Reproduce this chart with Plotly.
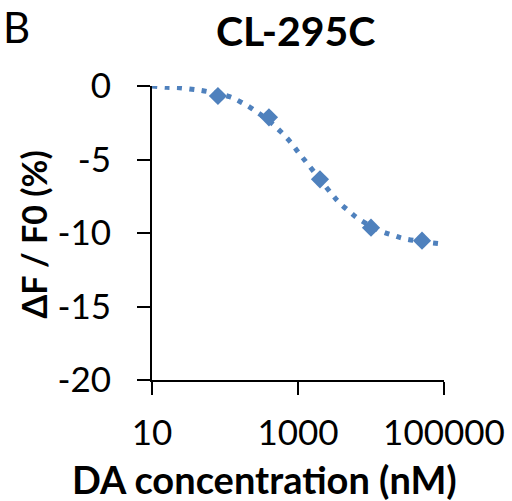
import plotly.graph_objects as go

# Data points (DA concentration in nM, ΔF/F0 in %)
conc = [80, 400, 2000, 10000, 50000]
resp = [-0.68, -2.13, -6.35, -9.64, -10.52]

# Fitted trend line
fit_conc = [10, 15.9, 23.7, 35, 52, 115, 166, 237, 436, 604, 794, 1023, 1316,
            2805, 3646, 4955, 6792, 13600, 20200, 29900, 97700]
fit_resp = [0.0, -0.09, -0.12, -0.22, -0.34, -0.73, -1.10, -1.56, -2.53, -3.20,
            -3.83, -4.54, -5.22, -7.26, -7.92, -8.50, -9.05, -9.86, -10.16,
            -10.41, -10.75]

x_tickvals = [10, 1000, 100000]
x_ticktext = ["10", "1000", "100000"]
y_tickvals = [0, -5, -10, -15, -20]
y_ticktext = ["0", "-5", "-10", "-15", "-20"]

BLUE = "#4F81BD"
FONT = "Lato"

fig = go.Figure()
fig.add_trace(go.Scatter(
    x=fit_conc, y=fit_resp, mode="lines",
    line=dict(color=BLUE, width=5, dash="5px,7.5px", shape="spline"),
    hoverinfo="skip", showlegend=False, cliponaxis=False))
fig.add_trace(go.Scatter(
    x=conc, y=resp, mode="markers",
    marker=dict(symbol="diamond", size=14, color=BLUE),
    showlegend=False, cliponaxis=False))

fig.update_layout(
    width=512, height=501,
    margin=dict(l=152, r=68, t=86, b=121, autoexpand=False),
    paper_bgcolor="white", plot_bgcolor="white",
    font=dict(family=FONT, color="black", size=35),
    xaxis=dict(type="log", range=[1, 5], tickvals=x_tickvals, ticktext=x_ticktext,
               ticks="outside", ticklen=13, tickwidth=2, tickcolor="black",
               showline=True, linecolor="black", linewidth=2, showgrid=False,
               zeroline=False, tickfont=dict(size=35, family=FONT),
               ticklabelstandoff=8, automargin=False),
    yaxis=dict(range=[-20, 0], tickvals=y_tickvals, ticktext=y_ticktext,
               ticks="outside", ticklen=13, tickwidth=2, tickcolor="black",
               showline=True, linecolor="black", linewidth=2, showgrid=False,
               zeroline=False, tickfont=dict(size=35, family=FONT),
               ticklabelstandoff=19, automargin=False),
    annotations=[
        dict(text="<b>CL-295C</b>", x=(295.5 - 152) / 292, y=(380 - 30) / 294,
             xref="paper", yref="paper", xanchor="center", yanchor="middle",
             showarrow=False, font=dict(size=41, family=FONT)),
        dict(text="B", x=(1 - 152) / 292, y=(380 - 0) / 294,
             xref="paper", yref="paper", xanchor="left", yanchor="top",
             showarrow=False, font=dict(size=42, family=FONT)),
        dict(text="<b>ΔF / F0 (%)</b>", x=(33 - 152) / 292, y=(380 - 234.5) / 294,
             xref="paper", yref="paper", xanchor="center", yanchor="middle",
             textangle=-90, showarrow=False, font=dict(size=34, family=FONT)),
        dict(text="<b>DA concentration (nM)</b>", x=(264 - 152) / 292,
             y=(380 - 479) / 294, xref="paper", yref="paper",
             xanchor="center", yanchor="middle", showarrow=False,
             font=dict(size=38, family=FONT)),
    ],
)

fig.write_html("out.html", config={"displayModeBar": False},
               post_script="document.body.style.margin='0';document.body.style.overflow='hidden';")
